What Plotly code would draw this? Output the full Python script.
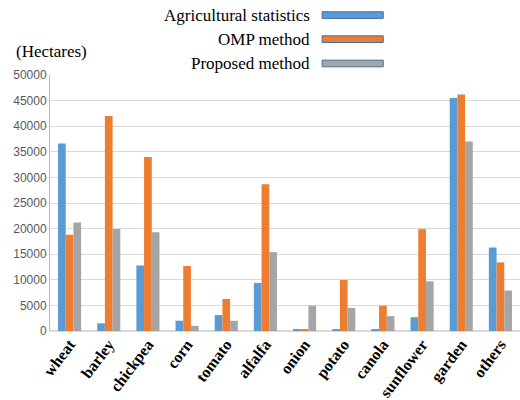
import plotly.graph_objects as go

# Crop areas in hectares
crops = ["wheat", "barley", "chickpea", "corn", "tomato", "alfalfa", "onion",
         "potato", "canola", "sunflower", "garden", "others"]
agri_stats = [36600, 1500, 12800, 2000, 3100, 9400, 200, 200, 200, 2700, 45500, 16300]
omp_method = [18800, 42000, 34000, 12700, 6250, 28650, 200, 9950, 4950, 19900, 46200, 13400]
proposed = [21200, 19900, 19300, 1000, 2000, 15400, 4950, 4500, 2900, 9700, 37000, 7900]

series_names = ["Agricultural statistics", "OMP method", "Proposed method"]
series_values = [agri_stats, omp_method, proposed]
colors = ["#5B9BD5", "#ED7D31", "#A5A5A5"]
y_ticks = [0, 5000, 10000, 15000, 20000, 25000, 30000, 35000, 40000, 45000, 50000]

fig = go.Figure()
for name, vals, col in zip(series_names, series_values, colors):
    fig.add_trace(go.Bar(x=crops, y=vals, name=name, marker_color=col,
                         marker_line_width=0, showlegend=False))

serif = "Liberation Serif, Times New Roman, serif"

# Legend above the plot, text on the left of each swatch
legend_y = [1.234, 1.140, 1.045]
for name, col, ly in zip(series_names, colors, legend_y):
    fig.add_annotation(x=0.557, y=ly, xref="paper", yref="paper", text=name,
                       showarrow=False, xanchor="right", yanchor="middle",
                       font=dict(family=serif, size=17, color="#000000"))
    fig.add_shape(type="rect", xref="paper", yref="paper",
                  x0=0.579, x1=0.709, y0=ly - 0.013, y1=ly + 0.013,
                  fillcolor=col, line=dict(color="#41719C", width=1))

fig.add_annotation(x=-0.076, y=1.09, xref="paper", yref="paper", text="(Hectares)",
                   showarrow=False, xanchor="left", yanchor="middle",
                   font=dict(family=serif, size=17, color="#000000"))

fig.update_layout(
    width=520, height=400,
    margin=dict(l=50, r=0, t=75, b=69),
    paper_bgcolor="white", plot_bgcolor="white",
    barmode="group", bargap=0.41, bargroupgap=0,
    xaxis=dict(tickangle=-53, automargin=False,
               tickfont=dict(family=serif, size=16, color="#000000", weight="bold"),
               showline=False, ticks="", showgrid=False),
    yaxis=dict(range=[0, 50000], tickvals=y_ticks, tickformat="d", ticks="",
               automargin=False,
               tickfont=dict(family="Liberation Sans, Arial, sans-serif", size=12,
                             color="#595959"),
               showgrid=True, gridcolor="#D9D9D9", gridwidth=1,
               showline=True, linecolor="#9DC3E6", linewidth=1,
               zeroline=True, zerolinecolor="#D9D9D9"),
)

fig.write_html("out.html")
